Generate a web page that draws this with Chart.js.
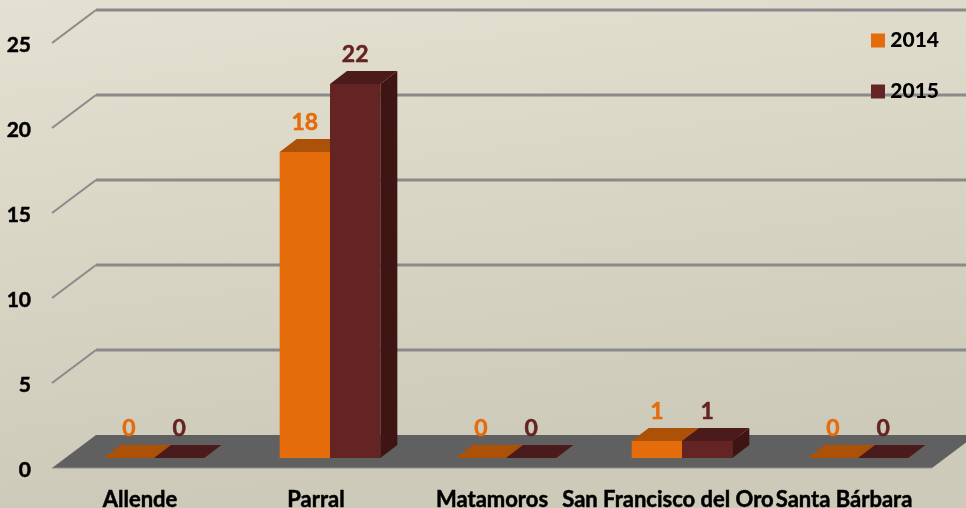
<!DOCTYPE html>
<html>
<head>
<meta charset="utf-8">
<title>Chart</title>
<script src="https://cdn.jsdelivr.net/npm/chart.js@4"></script>
<style>
    html, body { margin: 0; padding: 0; background: #d8d5c6; }
    canvas { display: block; }
</style>
</head>
<body>
<canvas id="barChart" width="966" height="508"></canvas>
<script>
const categories = ['Allende', 'Parral', 'Matamoros', 'San Francisco del Oro', 'Santa Bárbara'];
const seriesNames = ['2014', '2015'];
const values2014 = [0, 18, 0, 1, 0];
const values2015 = [0, 22, 0, 1, 0];
const frontColors = ['#e46c0a', '#632423'];
const topColors = ['#ab5208', '#4a1b1a'];
const sideColors = ['#a04c06', '#3f1514'];

const fontFamily = 'Lato, sans-serif';

// fake 3D: how far the walls and the bars are pushed from the scale's plane
const frontShift = { x: -14, y: 10 };
const backShift = { x: 30, y: -23 };
const barDepth = { x: 17, y: -13 };

function poly(ctx, pts, color) {
    ctx.fillStyle = color;
    ctx.beginPath();
    pts.forEach((p, i) => i ? ctx.lineTo(p[0], p[1]) : ctx.moveTo(p[0], p[1]));
    ctx.closePath();
    ctx.fill();
}

const threeD = {
    id: 'threeD',
    afterLayout(chart) {
        // legend sits over the top right corner of the wall
        const legend = chart.legend;
        legend.left = 841;
        legend.right = 939;
        legend.top = 0;
        legend.bottom = 300;
    },
    beforeDraw(chart) {
        const ctx = chart.ctx;
        const y = chart.scales.y;
        const area = chart.chartArea;

        const bg = ctx.createLinearGradient(0, 0, 60, 508);
        bg.addColorStop(0, '#e4e1d2');
        bg.addColorStop(1, '#cdcab9');
        ctx.fillStyle = bg;
        ctx.fillRect(0, 0, chart.width, chart.height);

        const fl = area.left + frontShift.x;
        const fr = area.right + frontShift.x;
        const bl = area.left + backShift.x;
        const br = area.right + backShift.x;

        ctx.save();
        ctx.strokeStyle = '#8a8a8a';
        y.ticks.forEach(t => {
            if (t.value === 0) return;
            const py = y.getPixelForValue(t.value);
            ctx.lineWidth = 2;
            ctx.beginPath();
            ctx.moveTo(fl, py + frontShift.y);
            ctx.lineTo(bl, py + backShift.y);
            ctx.stroke();
            ctx.lineWidth = 3;
            ctx.beginPath();
            ctx.moveTo(bl, py + backShift.y);
            ctx.lineTo(br, py + backShift.y);
            ctx.stroke();
        });
        ctx.restore();

        // floor
        const py0 = y.getPixelForValue(0);
        const floorPts = [
            [fl, py0 + frontShift.y], [fr, py0 + frontShift.y],
            [br, py0 + backShift.y], [bl, py0 + backShift.y]
        ];
        poly(ctx, floorPts, '#606060');
        ctx.strokeStyle = '#8f8f8f';
        ctx.lineWidth = 1;
        ctx.beginPath();
        ctx.moveTo(fl, py0 + frontShift.y);
        ctx.lineTo(fr, py0 + frontShift.y);
        ctx.stroke();
    },
    beforeDatasetsDraw(chart) {
        // top and side faces go down first, the library then paints the fronts
        const ctx = chart.ctx;
        seriesNames.forEach((name, i) => {
            chart.getDatasetMeta(i).data.forEach(bar => {
                const l = bar.x - bar.width / 2;
                const r = bar.x + bar.width / 2;
                const dx = barDepth.x;
                const dy = barDepth.y;
                if (bar.base > bar.y) {
                    poly(ctx, [[r, bar.y], [r + dx, bar.y + dy], [r + dx, bar.base + dy], [r, bar.base]], sideColors[i]);
                }
                poly(ctx, [[l, bar.y], [r, bar.y], [r + dx, bar.y + dy], [l + dx, bar.y + dy]], topColors[i]);
            });
        });
    },
    afterDatasetsDraw(chart) {
        const ctx = chart.ctx;
        ctx.save();
        ctx.font = 'bold 23px ' + fontFamily;
        ctx.textAlign = 'center';
        ctx.textBaseline = 'middle';
        ctx.lineWidth = 0.5;
        chart.data.datasets.forEach((ds, i) => {
            ctx.fillStyle = frontColors[i];
            ctx.strokeStyle = frontColors[i];
            chart.getDatasetMeta(i).data.forEach((bar, j) => {
                ctx.fillText(String(ds.data[j]), bar.x, bar.y - 29);
                ctx.strokeText(String(ds.data[j]), bar.x, bar.y - 29);
            });
        });
        ctx.restore();
    }
};

const ctx = document.getElementById('barChart').getContext('2d');
new Chart(ctx, {
    type: 'bar',
    data: {
        labels: categories,
        datasets: [
            {
                label: seriesNames[0],
                data: values2014,
                backgroundColor: frontColors[0],
                categoryPercentage: 0.572,
                barPercentage: 1
            },
            {
                label: seriesNames[1],
                data: values2015,
                backgroundColor: frontColors[1],
                categoryPercentage: 0.572,
                barPercentage: 1
            }
        ]
    },
    options: {
        responsive: false,
        animation: false,
        layout: { padding: { top: 33, right: 20, left: 0, bottom: 0 } },
        plugins: {
            tooltip: { enabled: false },
            legend: {
                position: 'chartArea',
                align: 'start',
                labels: {
                    boxWidth: 14,
                    boxHeight: 14,
                    padding: 30,
                    textAlign: 'right',
                    color: '#000',
                    font: { family: fontFamily, size: 21, weight: '900' }
                }
            }
        },
        scales: {
            x: {
                grid: { display: false },
                border: { display: false },
                afterFit(scale) {
                    scale.height = 50;
                    scale.paddingLeft = 0;
                    scale.paddingRight = 0;
                },
                ticks: {
                    autoSkip: false,
                    maxRotation: 0,
                    labelOffset: frontShift.x,
                    padding: 21,
                    color: '#000',
                    textStrokeColor: '#000',
                    textStrokeWidth: 0.5,
                    font: { family: fontFamily, size: 22, weight: 'bold' }
                }
            },
            y: {
                min: 0,
                max: 25,
                grid: { display: false, drawTicks: false },
                border: { display: false },
                afterFit(scale) {
                    scale.width = 66;
                    scale.paddingTop = 0;
                    scale.paddingBottom = 0;
                },
                ticks: {
                    stepSize: 5,
                    labelOffset: frontShift.y + 2,
                    padding: 35,
                    color: '#000',
                    textStrokeColor: '#000',
                    textStrokeWidth: 0.5,
                    font: { family: fontFamily, size: 21, weight: 'bold' }
                }
            }
        }
    },
    plugins: [threeD]
});
</script>
</body>
</html>
